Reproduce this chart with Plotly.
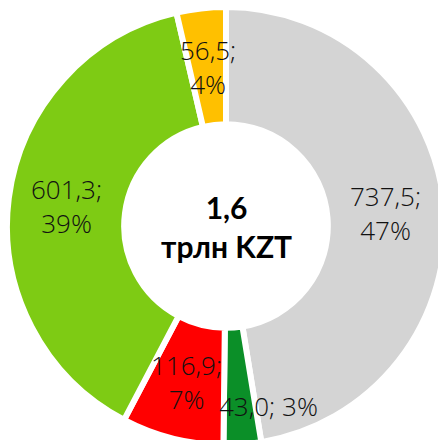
import math
import plotly.graph_objects as go

categories = ["A", "B", "C", "D", "E"]
values = [737.5, 43.0, 116.9, 601.3, 56.5]
value_labels = ["737,5", "43,0", "116,9", "601,3", "56,5"]
percent_labels = ["47%", "3%", "7%", "39%", "4%"]
colors = ["#D4D4D4", "#0B8F28", "#FF0000", "#7ECB14", "#FFC000"]
center_text = "1,6<br>трлн KZT"

W, H = 452, 452
HOLE = 0.465
DOM = [0.0155, 0.9845]

fig = go.Figure(go.Pie(
    labels=categories,
    values=values,
    sort=False,
    direction="clockwise",
    rotation=0,
    hole=HOLE,
    marker=dict(colors=colors, line=dict(color="white", width=6)),
    textinfo="none",
    domain=dict(x=DOM, y=DOM),
    showlegend=False,
    hoverinfo="skip",
))

# slice labels at each slice's mid-angle, mid-radius
total = sum(values)
R = (DOM[1] - DOM[0]) / 2
rmid = R * (1 + HOLE) / 2
label_font = dict(family="'Open Sans', Lato, sans-serif", size=26, color="#111111", weight=300)
cum = 0.0
for i, v in enumerate(values):
    mid = (cum + v / 2) / total * 2 * math.pi
    cum += v
    x = 0.5 + rmid * math.sin(mid)
    y = 0.5 + rmid * math.cos(mid)
    small = v / total < 0.03
    txt = f"{value_labels[i]}; {percent_labels[i]}" if small else f"{value_labels[i]};<br>{percent_labels[i]}"
    fig.add_annotation(
        text=txt, x=x, y=y, xref="paper", yref="paper", showarrow=False,
        xanchor="center", yanchor="middle",
        font=label_font,
        xshift=30 if small else 0, yshift=-20 if small else 0,
    )

fig.add_annotation(
    text=center_text, x=0.5, y=0.5, xref="paper", yref="paper",
    xanchor="center", yanchor="middle",
    showarrow=False,
    font=dict(family="Lato, 'Open Sans', sans-serif", size=30, color="#000000", weight="bold"),
)
fig.update_layout(
    width=W, height=H,
    margin=dict(l=0, r=0, t=0, b=0),
    paper_bgcolor="white",
    plot_bgcolor="white",
)
fig.write_html("out.html", post_script="document.body.style.overflow='hidden';document.documentElement.style.overflow='hidden';document.body.style.margin='0';")
